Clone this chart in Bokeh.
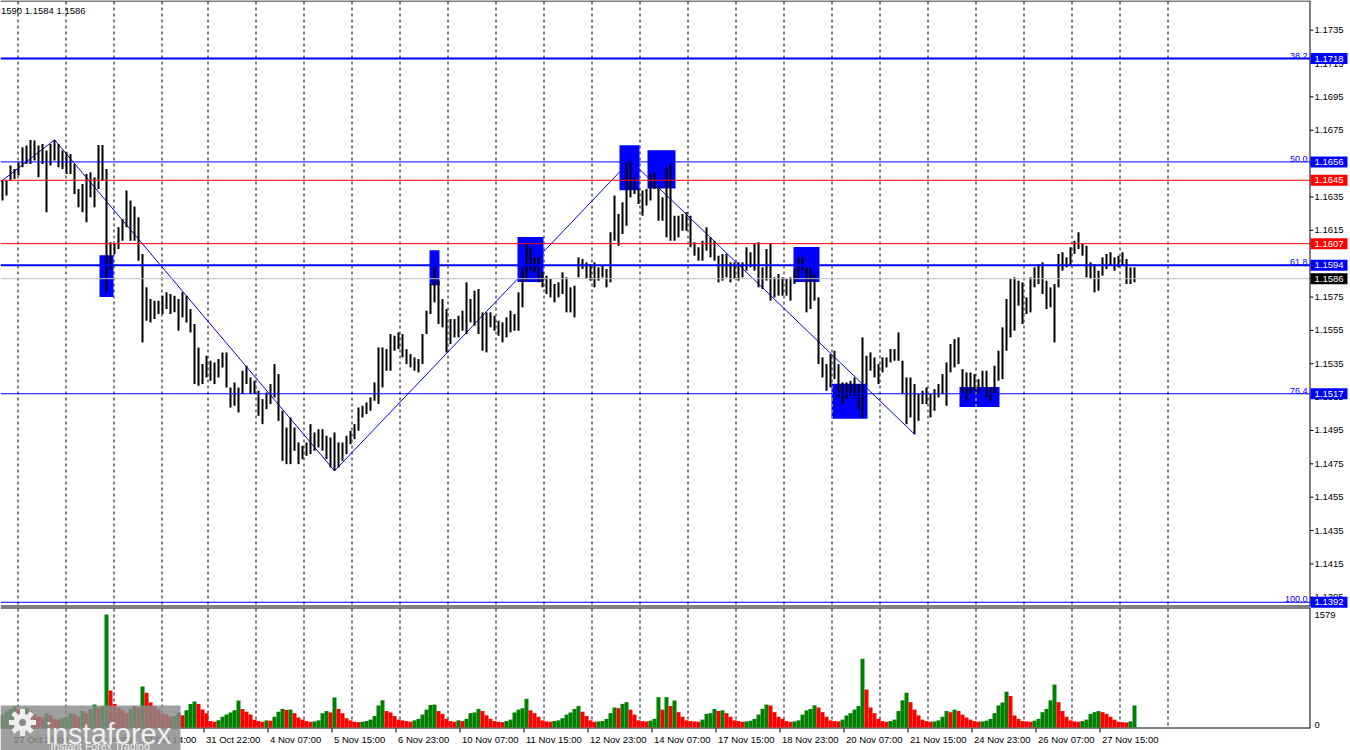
from bokeh.plotting import figure
from bokeh.models import Range1d
from bokeh.embed import file_html
from bokeh.resources import INLINE
from bokeh.core.properties import value

# ------------------------------------------------------------------ data
# two-hour bars (high / low), left to right
bar_high = [
    1.16448, 1.16448, 1.16538, 1.16518, 1.16558, 1.16648, 1.16658, 1.16692, 1.16688, 1.16658,
    1.16668, 1.16628, 1.16668, 1.16692, 1.16668, 1.16628, 1.16618, 1.16608, 1.16548, 1.16398,
    1.16428, 1.16488, 1.16498, 1.16468, 1.16662, 1.16662, 1.16518, 1.16078, 1.16068, 1.16168,
    1.16218, 1.16388, 1.16328, 1.16292, 1.16228, 1.16008, 1.15808, 1.15738, 1.15728, 1.15728,
    1.15758, 1.15778, 1.15768, 1.15758, 1.15738, 1.15778, 1.15758, 1.15678, 1.15588, 1.15448,
    1.15348, 1.15398, 1.15368, 1.15358, 1.15378, 1.15418, 1.15418, 1.15208, 1.15238, 1.15208,
    1.15308, 1.15338, 1.15268, 1.15248, 1.15188, 1.15138, 1.15178, 1.15228, 1.15348, 1.15288,
    1.15068, 1.14968, 1.15028, 1.14968, 1.14878, 1.14858, 1.14878, 1.14988, 1.14938, 1.14958,
    1.14958, 1.14918, 1.14908, 1.14938, 1.14878, 1.14878, 1.14918, 1.14948, 1.14988, 1.15088,
    1.15098, 1.15118, 1.15148, 1.15238, 1.15448, 1.15448, 1.15438, 1.15528, 1.15518, 1.15538,
    1.15528, 1.15438, 1.15408, 1.15388, 1.15378, 1.15528, 1.15668, 1.15828, 1.15928, 1.15848,
    1.15738, 1.15678, 1.15618, 1.15618, 1.15638, 1.15668, 1.15838, 1.15738, 1.15788, 1.15798,
    1.15658, 1.15658, 1.15658, 1.15638, 1.15608, 1.15598, 1.15628, 1.15668, 1.15648, 1.15778,
    1.15928, 1.16068, 1.16048, 1.15988, 1.15988, 1.15898, 1.15878, 1.15858, 1.15828, 1.15838,
    1.15898, 1.15868, 1.15808, 1.15818, 1.15988, 1.15978, 1.15958, 1.15948, 1.15958, 1.15928,
    1.15938, 1.15918, 1.16138, 1.16358, 1.16248, 1.16318, 1.16558, 1.16568, 1.16468, 1.16398,
    1.16388, 1.16398, 1.16488, 1.16498, 1.16418, 1.16348, 1.16528, 1.16548, 1.16238, 1.16238,
    1.16248, 1.16258, 1.16238, 1.16078, 1.16048, 1.16088, 1.16168, 1.16108, 1.16088, 1.15998,
    1.16008, 1.16008, 1.15958, 1.15958, 1.15958, 1.15958, 1.16048, 1.16018, 1.16068, 1.16078,
    1.15928, 1.16038, 1.16068, 1.15868, 1.15888, 1.15868, 1.15858, 1.15868, 1.15918, 1.15988,
    1.15988, 1.15928, 1.15928, 1.15888, 1.15748, 1.15388, 1.15348, 1.15408, 1.15428, 1.15348,
    1.15238, 1.15238, 1.15248, 1.15268, 1.15228, 1.15508, 1.15398, 1.15418, 1.15388, 1.15348,
    1.15388, 1.15388, 1.15438, 1.15438, 1.15538, 1.15368, 1.15268, 1.15268, 1.15228, 1.15168,
    1.15188, 1.15208, 1.15168, 1.15198, 1.15228, 1.15288, 1.15358, 1.15468, 1.15498, 1.15508,
    1.15318, 1.15298, 1.15298, 1.15288, 1.15258, 1.15308, 1.15308, 1.15208, 1.15338, 1.15428,
    1.15568, 1.15738, 1.15858, 1.15868, 1.15848, 1.15838, 1.15748, 1.15868, 1.15928, 1.15948,
    1.15958, 1.15848, 1.15808, 1.15828, 1.16008, 1.16018, 1.15988, 1.16048, 1.16088, 1.16138,
    1.16068, 1.16058, 1.15958, 1.15948, 1.15908, 1.15988, 1.16008, 1.16018, 1.15988, 1.15998,
    1.16018, 1.15978, 1.15928, 1.15928,
]
bar_low = [
    1.16328, 1.16358, 1.16448, 1.16458, 1.16478, 1.16528, 1.16548, 1.16548, 1.16568, 1.16468,
    1.16548, 1.16258, 1.16538, 1.16568, 1.16528, 1.16518, 1.16488, 1.16488, 1.16368, 1.16288,
    1.16258, 1.16198, 1.16348, 1.16288, 1.16398, 1.16448, 1.15778, 1.15918, 1.16008, 1.16038,
    1.16088, 1.16168, 1.16088, 1.16088, 1.15968, 1.15478, 1.15608, 1.15598, 1.15618, 1.15648,
    1.15648, 1.15678, 1.15648, 1.15658, 1.15548, 1.15628, 1.15598, 1.15538, 1.15228, 1.15218,
    1.15228, 1.15268, 1.15248, 1.15228, 1.15268, 1.15328, 1.15208, 1.15088, 1.15098, 1.15058,
    1.15168, 1.15228, 1.15168, 1.15168, 1.15038, 1.14988, 1.15078, 1.15108, 1.15148, 1.15008,
    1.14768, 1.14748, 1.14748, 1.14828, 1.14748, 1.14778, 1.14798, 1.14808, 1.14828, 1.14848,
    1.14828, 1.14778, 1.14728, 1.14708, 1.14728, 1.14768, 1.14808, 1.14868, 1.14898, 1.14948,
    1.15028, 1.15048, 1.15068, 1.15128, 1.15108, 1.15208, 1.15308, 1.15308, 1.15428, 1.15438,
    1.15388, 1.15348, 1.15328, 1.15308, 1.15298, 1.15348, 1.15528, 1.15648, 1.15718, 1.15588,
    1.15568, 1.15418, 1.15468, 1.15508, 1.15508, 1.15548, 1.15528, 1.15598, 1.15578, 1.15528,
    1.15428, 1.15418, 1.15568, 1.15548, 1.15518, 1.15478, 1.15508, 1.15538, 1.15548, 1.15548,
    1.15688, 1.15848, 1.15908, 1.15898, 1.15838, 1.15808, 1.15768, 1.15748, 1.15718, 1.15748,
    1.15768, 1.15658, 1.15658, 1.15628, 1.15868, 1.15918, 1.15858, 1.15848, 1.15808, 1.15848,
    1.15868, 1.15808, 1.15838, 1.16088, 1.16058, 1.16128, 1.16178, 1.16348, 1.16368, 1.16308,
    1.16238, 1.16298, 1.16328, 1.16398, 1.16208, 1.16208, 1.16108, 1.16088, 1.16088, 1.16108,
    1.16148, 1.16148, 1.16048, 1.15998, 1.15968, 1.15968, 1.16028, 1.15988, 1.15968, 1.15838,
    1.15848, 1.15868, 1.15838, 1.15858, 1.15848, 1.15868, 1.15908, 1.15928, 1.15908, 1.15808,
    1.15798, 1.15848, 1.15728, 1.15748, 1.15758, 1.15758, 1.15758, 1.15728, 1.15828, 1.15868,
    1.15908, 1.15658, 1.15678, 1.15728, 1.15348, 1.15268, 1.15188, 1.15208, 1.15258, 1.15148,
    1.15108, 1.15138, 1.15158, 1.15158, 1.15078, 1.15028, 1.15228, 1.15308, 1.15268, 1.15228,
    1.15298, 1.15328, 1.15358, 1.15368, 1.15368, 1.15168, 1.14988, 1.15028, 1.14928, 1.15008,
    1.15108, 1.15108, 1.15028, 1.15068, 1.15148, 1.15168, 1.15098, 1.15298, 1.15328, 1.15348,
    1.15168, 1.15128, 1.15168, 1.15188, 1.15168, 1.15208, 1.15148, 1.15128, 1.15168, 1.15248,
    1.15258, 1.15428, 1.15508, 1.15548, 1.15698, 1.15588, 1.15648, 1.15658, 1.15808, 1.15828,
    1.15768, 1.15678, 1.15688, 1.15478, 1.15808, 1.15908, 1.15928, 1.15938, 1.16008, 1.16038,
    1.15998, 1.15868, 1.15858, 1.15778, 1.15788, 1.15878, 1.15918, 1.15938, 1.15908, 1.15928,
    1.15938, 1.15828, 1.15828, 1.15838,
]
volumes = [
    180, 220, 260, 300, 250, 200, 270, 230, 180, 150,
    140, 200, 170, 120, 110, 130, 150, 200, 180, 150, 230,
    200, 260, 320, 280, 300,
    1579, 517,
    330, 280, 240, 200, 260, 300, 280,
    573, 485,
    350, 300, 250, 200, 180, 150, 160, 210,
    170, 240, 330, 365, 330, 250, 200,
    90, 80, 100,
    150, 180, 210, 240, 377, 260, 220, 180,
    110, 90, 80, 100, 95,
    150, 220, 260, 245, 250, 200,
    140, 110, 90, 80, 85, 100,
    200, 230, 210, 420, 260, 200,
    130, 100, 80, 75, 80, 90, 110,
    160, 308, 380, 230, 210, 160,
    110, 100, 90, 80, 100, 120,
    180, 250, 315, 320, 230, 190,
    120, 90, 80, 100, 90, 120,
    200, 210, 260, 230, 170, 120,
    90, 80, 75, 90, 110,
    210, 250, 270, 400, 240, 200, 150,
    100, 85, 80, 90, 100, 130,
    180, 210, 260, 300, 220, 160,
    100, 80, 85, 90, 120,
    200, 280, 270, 330, 354, 250, 180,
    100, 90, 85, 95, 120,
    424, 250, 424, 300, 377, 214, 150,
    100, 90, 85, 80, 110,
    190, 200, 260, 230, 240, 200, 150,
    100, 90, 80, 85, 95, 120,
    180, 261, 320, 308, 214, 150, 120,
    90, 80, 85, 100,
    180, 240, 260, 310, 280, 214, 150,
    100, 90, 85, 110,
    168, 200, 250, 300, 960, 530, 280, 200,
    120, 90, 80, 90, 110,
    230, 380, 485, 354, 250, 170,
    110, 90, 80, 85, 100,
    150, 230, 214, 250, 230, 180, 140, 110,
    90, 80, 85, 95, 120,
    200, 308, 350, 500, 440, 168, 120,
    90, 85, 80, 95, 120,
    214, 260, 380, 600, 354, 230, 150,
    100, 85, 80, 90, 110,
    190, 214, 230, 214, 190, 150, 110,
    80, 75, 70, 85,
    308,
]
HOURS_PER_BAR = 2

price_ticks = [1.1395, 1.1415, 1.1435, 1.1455, 1.1475, 1.1495, 1.1515, 1.1535, 1.1555,
               1.1575, 1.1595, 1.1615, 1.1635, 1.1655, 1.1675, 1.1695, 1.1715, 1.1735]
fib_levels = [1.1718, 1.1656, 1.1594, 1.1517, 1.1392]
fib_names = ["38.2", "50.0", "61.8", "76.4", "100.0"]
red_levels = [1.1645, 1.1607]
bid_price = 1.1586

zigzag_start_price = 1.1644
zigzag_pivot_bars = [13, 83, 157, 228]
zigzag_pivot_kind = ["high", "low", "high", "low"]

zone_start = [49.5, 214.5, 258.5, 309.5, 323.5, 396.5, 415.5, 479.5]   # hours
zone_end = [56.5, 219.5, 271.5, 319.5, 337.5, 409.5, 433.5, 499.5]
zone_top = [1.1600, 1.1603, 1.1611, 1.1666, 1.1663, 1.1605, 1.1523, 1.1521]
zone_bottom = [1.1575, 1.1582, 1.1584, 1.1639, 1.1640, 1.1584, 1.1502, 1.1509]

time_labels = ["27 Oct 22:00", "29 Oct 06:00", "30 Oct 14:00", "31 Oct 22:00", "4 Nov 07:00",
               "5 Nov 15:00", "6 Nov 23:00", "10 Nov 07:00", "11 Nov 15:00", "12 Nov 23:00",
               "14 Nov 07:00", "17 Nov 15:00", "18 Nov 23:00", "20 Nov 07:00", "21 Nov 15:00",
               "24 Nov 23:00", "26 Nov 07:00", "27 Nov 15:00"]
first_label_hour = 5.5
hours_between_labels = 32
vol_max_label = 1579
header_text = "1590 1.1584 1.1586"

# ------------------------------------------------------------------ layout helpers
FONT = "Liberation Sans"
BLUE = "#0000FF"
RED = "#FF0000"
GREEN = "#008000"
W, H = 1350, 750


def hx(rx):          # screen column -> hours
    return rx / 2.0


def py(ry):          # screen row -> price
    return 1.1718 - (ry - 58) / 16680.0


def vy(ry):          # screen row -> volume (volume panel scale)
    return (727 - ry) * 1579 / 113.0


fib_widths = [2, 1, 2, 1, 1]
AXIS_H = hx(1309.5)
BOX_HALF = 5.5 / 16680.0

n = len(bar_high)
bar_x = [HOURS_PER_BAR * i + HOURS_PER_BAR / 2 for i in range(n)]
grid_px = [17.5 + 48 * k for k in range(4)] + [207.5 + 48 * k for k in range(21)]
grid_h = [hx(g) for g in grid_px]

p = figure(width=W, height=H, x_range=Range1d(hx(0), hx(W)),
           y_range=Range1d(py(H), py(0)), output_backend="svg", toolbar_location=None,
           x_axis_location=None, y_axis_location=None, min_border=0,
           background_fill_color="white", border_fill_color="white", outline_line_color=None)
p.extra_y_ranges = {"vol": Range1d(vy(H), vy(0))}
p.grid.visible = False


def txt(x, y, t, size="9.5px", color="black", align="left", baseline="middle", yr="default",
        alpha=1.0, font=FONT):
    p.text(x=x, y=y, text=t, text_font=value(font), text_font_size=value(size),
           text_color=color, text_align=align, text_baseline=baseline, y_range_name=yr,
           text_alpha=alpha)


# dashed vertical grid (both panels)
p.segment(x0=grid_h, x1=grid_h, y0=[py(1)] * len(grid_h), y1=[py(604)] * len(grid_h),
          line_color="black", line_dash="3 3", line_width=1, level="underlay")
p.segment(x0=grid_h, x1=grid_h, y0=[vy(608)] * len(grid_h), y1=[vy(727)] * len(grid_h),
          line_color="black", line_dash="3 3", line_width=1, level="underlay", y_range_name="vol")

# zigzag
zz_x = [0] + [bar_x[b] for b in zigzag_pivot_bars]
zz_y = [zigzag_start_price] + [bar_high[b] if k == "high" else bar_low[b]
                               for b, k in zip(zigzag_pivot_bars, zigzag_pivot_kind)]
p.line(zz_x, zz_y, line_color=BLUE, line_width=1)

# zones
p.quad(left=zone_start, right=zone_end, top=zone_top, bottom=zone_bottom,
       fill_color=BLUE, line_color=None)
yx, yy0, yy1 = [], [], []
for l, r, t, b in zip(zone_start, zone_end, zone_top, zone_bottom):
    for gx in grid_h:
        if l < gx < r:
            yx.append(gx); yy0.append(b); yy1.append(t)
p.segment(x0=yx, x1=yx, y0=yy0, y1=yy1, line_color="yellow", line_dash="3 3", line_width=1)

# price bars
p.segment(x0=bar_x, x1=bar_x, y0=bar_low, y1=bar_high, line_color="black", line_width=2)

# horizontal levels
for lvl, w in zip(fib_levels, fib_widths):
    p.segment(x0=[0], x1=[AXIS_H], y0=[lvl], y1=[lvl], line_color=BLUE, line_width=w)
for lvl in red_levels:
    p.segment(x0=[0], x1=[AXIS_H], y0=[lvl], y1=[lvl], line_color=RED, line_width=1)
p.segment(x0=[0], x1=[AXIS_H], y0=[bid_price], y1=[bid_price], line_color="#C0C0C0", line_width=1)
txt([hx(1307)] * len(fib_levels), fib_levels, fib_names, color=BLUE, align="right",
    baseline="bottom", size="9px")

# panel borders and axis lines
p.segment(x0=[0], x1=[AXIS_H], y0=[py(0.5)], y1=[py(0.5)], line_color="black", line_width=1)
p.segment(x0=[0], x1=[AXIS_H], y0=[py(605.5)], y1=[py(605.5)], line_color="black", line_width=1)
p.segment(x0=[0], x1=[AXIS_H], y0=[vy(607.5)], y1=[vy(607.5)], line_color="black",
          line_width=1, y_range_name="vol")
p.segment(x0=[AXIS_H], x1=[AXIS_H], y0=[py(0)], y1=[py(605.5)], line_color="black", line_width=1)
p.segment(x0=[AXIS_H], x1=[AXIS_H], y0=[vy(607.5)], y1=[vy(728)], line_color="black",
          line_width=1, y_range_name="vol")
p.segment(x0=[0], x1=[AXIS_H], y0=[vy(727.5)], y1=[vy(727.5)], line_color="black",
          line_width=1, y_range_name="vol")

# price scale
p.segment(x0=[AXIS_H] * len(price_ticks), x1=[hx(1313)] * len(price_ticks),
          y0=price_ticks, y1=price_ticks, line_color="black", line_width=1)
txt([hx(1314)] * len(price_ticks), price_ticks, ["%.4f" % t for t in price_ticks])

# level boxes on the scale
boxes = [(l, BLUE) for l in fib_levels] + [(l, RED) for l in red_levels] + [(bid_price, "black")]
bl = [b[0] for b in boxes]
p.quad(left=[hx(1310)] * len(bl), right=[hx(1347)] * len(bl),
       top=[l + BOX_HALF for l in bl], bottom=[l - BOX_HALF for l in bl],
       fill_color=[b[1] for b in boxes], line_color=None)
txt([hx(1314)] * len(bl), bl, ["%.4f" % l for l in bl], color="white")

# header
txt([hx(0.5)], [py(4)], [header_text], baseline="top", size="9.5px")

# volumes
vcolors = [GREEN if (i == 0 or volumes[i] > volumes[i - 1]) else RED for i in range(len(volumes))]
p.vbar(x=bar_x[:len(volumes)], width=HOURS_PER_BAR, top=volumes, bottom=0,
       fill_color=vcolors, line_color=None, y_range_name="vol")
txt([hx(1314)], [vol_max_label], [str(vol_max_label)], yr="vol")
txt([hx(1314)], [0], ["0"], yr="vol", baseline="bottom")

# time scale
tick_h = [first_label_hour + hours_between_labels * k + 0.25 for k in range(len(time_labels))]
p.segment(x0=tick_h, x1=tick_h, y0=[vy(728)] * len(tick_h), y1=[vy(732)] * len(tick_h),
          line_color="black", line_width=1, y_range_name="vol")
txt([t + 1 for t in tick_h], [vy(738.5)] * len(tick_h), time_labels, yr="vol")

# watermark (gear logo drawn with markers, then the brand texts)
p.quad(left=[hx(0)], right=[hx(180)], top=[vy(705)], bottom=[vy(750)],
       fill_color="#8a8a8a", fill_alpha=0.82, line_color=None, y_range_name="vol")
p.scatter(x=[hx(22)], y=[vy(722)], marker="asterisk", size=27, line_color="#eeeeee",
          line_width=5, y_range_name="vol")
p.scatter(x=[hx(22)], y=[vy(722)], marker="circle", size=18, fill_color="#eeeeee",
          line_color=None, y_range_name="vol")
p.scatter(x=[hx(22)], y=[vy(722)], marker="circle", size=7, fill_color="#8a8a8a",
          line_color=None, y_range_name="vol")
txt([hx(45)], [vy(733)], ["instaforex"], size="29px", color="white", baseline="alphabetic",
    yr="vol", alpha=0.85)
txt([hx(50)], [vy(745)], ["Instant Forex Trading"], size="10.5px", color="white",
    baseline="alphabetic", yr="vol", alpha=0.85)

open("out.html", "w").write(file_html(p, INLINE))
